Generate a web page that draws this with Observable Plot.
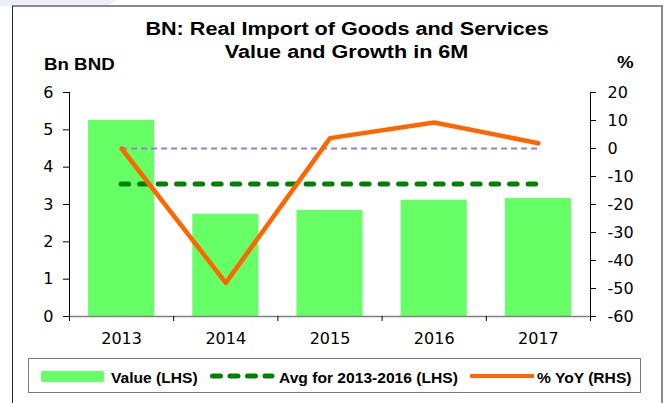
<!DOCTYPE html>
<html>
<head>
<meta charset="utf-8">
<script src="https://cdn.jsdelivr.net/npm/d3@7"></script>
<script src="https://cdn.jsdelivr.net/npm/@observablehq/plot@0.6"></script>
<style>
  html, body { margin: 0; padding: 0; background: #fff; }
  #page { position: relative; width: 667px; height: 403px; overflow: hidden; background: #fff; font-family: Arial, "Liberation Sans", sans-serif; color: #000; }
  .abs { position: absolute; }
  .sx { display: inline-block; white-space: nowrap; }
  #title { top: 18px; left: 0; width: 694px; text-align: center; font-weight: bold; font-size: 18px; line-height: 23px; }
  #title .sx { transform: scaleX(1.2); transform-origin: center; }
  .lab { font-weight: bold; font-size: 17px; line-height: 1; white-space: nowrap; }
  .lab .sx { transform: scaleX(1.1); transform-origin: left; }
  .leg { font-weight: bold; font-size: 15px; line-height: 1; white-space: nowrap; }
  .leg .sx { transform: scaleX(1.04); transform-origin: left; }
</style>
</head>
<body>
<div id="page">
  <div class="abs" style="left:0;top:0;width:118px;height:6px;background:#eceef8;clip-path:polygon(0 0,100% 0,90% 100%,0 100%);"></div>
  <div class="abs" style="left:12px;top:5px;width:651px;height:430px;box-sizing:border-box;border-left:1.5px solid #222;border-top:2px solid #8a8a8a;border-right:2px solid #8a8a8a;"></div>
  <div id="title" class="abs">
    <div><span class="sx">BN: Real Import of Goods and Services</span></div>
    <div><span class="sx">Value and Growth in 6M</span></div>
  </div>
  <div class="abs lab" style="left:44px;top:55.6px;"><span class="sx">Bn BND</span></div>
  <div class="abs lab" style="left:617px;top:54px;"><span class="sx">%</span></div>
  <div id="chart" class="abs" style="left:0;top:78px;"></div>
  <div id="legend" class="abs" style="left:28px;top:358px;width:613px;height:35px;box-sizing:border-box;border:1.5px solid #7a7a7a;background:#fff;"></div>
  <div class="abs" style="left:41px;top:371px;width:63px;height:11px;background:#66ff66;border-radius:2px;"></div>
  <div class="abs leg" style="left:111px;top:369.5px;"><span class="sx">Value (LHS)</span></div>
  <svg class="abs" style="left:208px;top:371px;" width="70" height="10"><line x1="4.5" x2="64" y1="5" y2="5" stroke="#008000" stroke-width="5" stroke-linecap="round" stroke-dasharray="8,9.5"/></svg>
  <div class="abs leg" style="left:279px;top:369.5px;"><span class="sx">Avg for 2013-2016 (LHS)</span></div>
  <div class="abs" style="left:470px;top:374px;width:64px;height:4px;background:#ff6600;"></div>
  <div class="abs leg" style="left:537px;top:369.5px;"><span class="sx">% YoY (RHS)</span></div>
</div>
<script>
// ---- data ----
const years = ["2013", "2014", "2015", "2016", "2017"];
const values = [5.25, 2.74, 2.84, 3.11, 3.16];     // Bn BND (LHS)
const yoy = [0.0, -48.0, 3.7, 9.3, 1.9];           // % YoY (RHS)
const avgValue = [3.55];                            // Avg for 2013-2016 (LHS)
const zeroLine = [0];                               // RHS zero reference
const leftDomain = [0, 6];
const rightDomain = [-60, 20];
const leftTicks = [0, 1, 2, 3, 4, 5, 6];
const rightTicks = [-60, -50, -40, -30, -20, -10, 0, 10, 20];

// map RHS values onto the LHS scale (dual axis)
const toLeft = v => leftDomain[0] + (v - rightDomain[0]) / (rightDomain[1] - rightDomain[0]) * (leftDomain[1] - leftDomain[0]);
const fromLeft = v => rightDomain[0] + (v - leftDomain[0]) / (leftDomain[1] - leftDomain[0]) * (rightDomain[1] - rightDomain[0]);

const idx = d3.range(years.length);
const bounds = d3.range(years.length + 1).map(i => i - 0.5);
const edges = [bounds[0], bounds[bounds.length - 1]];
const half = 0.317;
const last = years.length - 1;

const chart = Plot.plot({
  width: 667,
  height: 272,
  marginTop: 14,
  marginBottom: 34,
  marginLeft: 69,
  marginRight: 77,
  style: { fontFamily: "'DejaVu Sans', sans-serif", fontSize: "16px", color: "#000", background: "transparent", overflow: "visible" },
  x: { type: "linear", domain: [-0.5, years.length - 0.5] },
  y: { domain: leftDomain },
  marks: [
    Plot.rectY(idx, { x1: i => i - half, x2: i => i + half, y1: 0, y2: i => values[i], fill: "#66ff66" }),
    Plot.ruleY([0], { stroke: "#7f7f7f", strokeWidth: 1.5 }),
    Plot.ruleX(edges, { y1: leftDomain[0], y2: leftDomain[1], stroke: "#000", strokeWidth: 1 }),
    Plot.ruleY(zeroLine.map(toLeft), { x1: 0, x2: last, stroke: "#9a7fc4", strokeWidth: 2, strokeDasharray: "6,4" }),
    Plot.ruleY(avgValue, { x1: 0, x2: last, stroke: "#008000", strokeWidth: 5, strokeDasharray: "7.5,11", strokeLinecap: "round" }),
    Plot.line(idx, { x: i => i, y: i => toLeft(yoy[i]), stroke: "#ff6600", strokeWidth: 4.5 }),
    Plot.axisY(leftTicks, { anchor: "left", tickSize: 6, tickPadding: 10, label: null }),
    Plot.axisY(rightTicks.map(toLeft), { anchor: "right", tickSize: 5, tickPadding: 12, label: null, tickFormat: d => String(Math.round(fromLeft(d))) }),
    Plot.axisX(bounds, { anchor: "bottom", tickSize: 5, tickFormat: () => "", label: null }),
    Plot.axisX(idx, { anchor: "bottom", tickSize: 0, tickPadding: 16, label: null, tickFormat: i => years[i] })
  ]
});
document.getElementById("chart").appendChild(chart);
</script>
</body>
</html>
